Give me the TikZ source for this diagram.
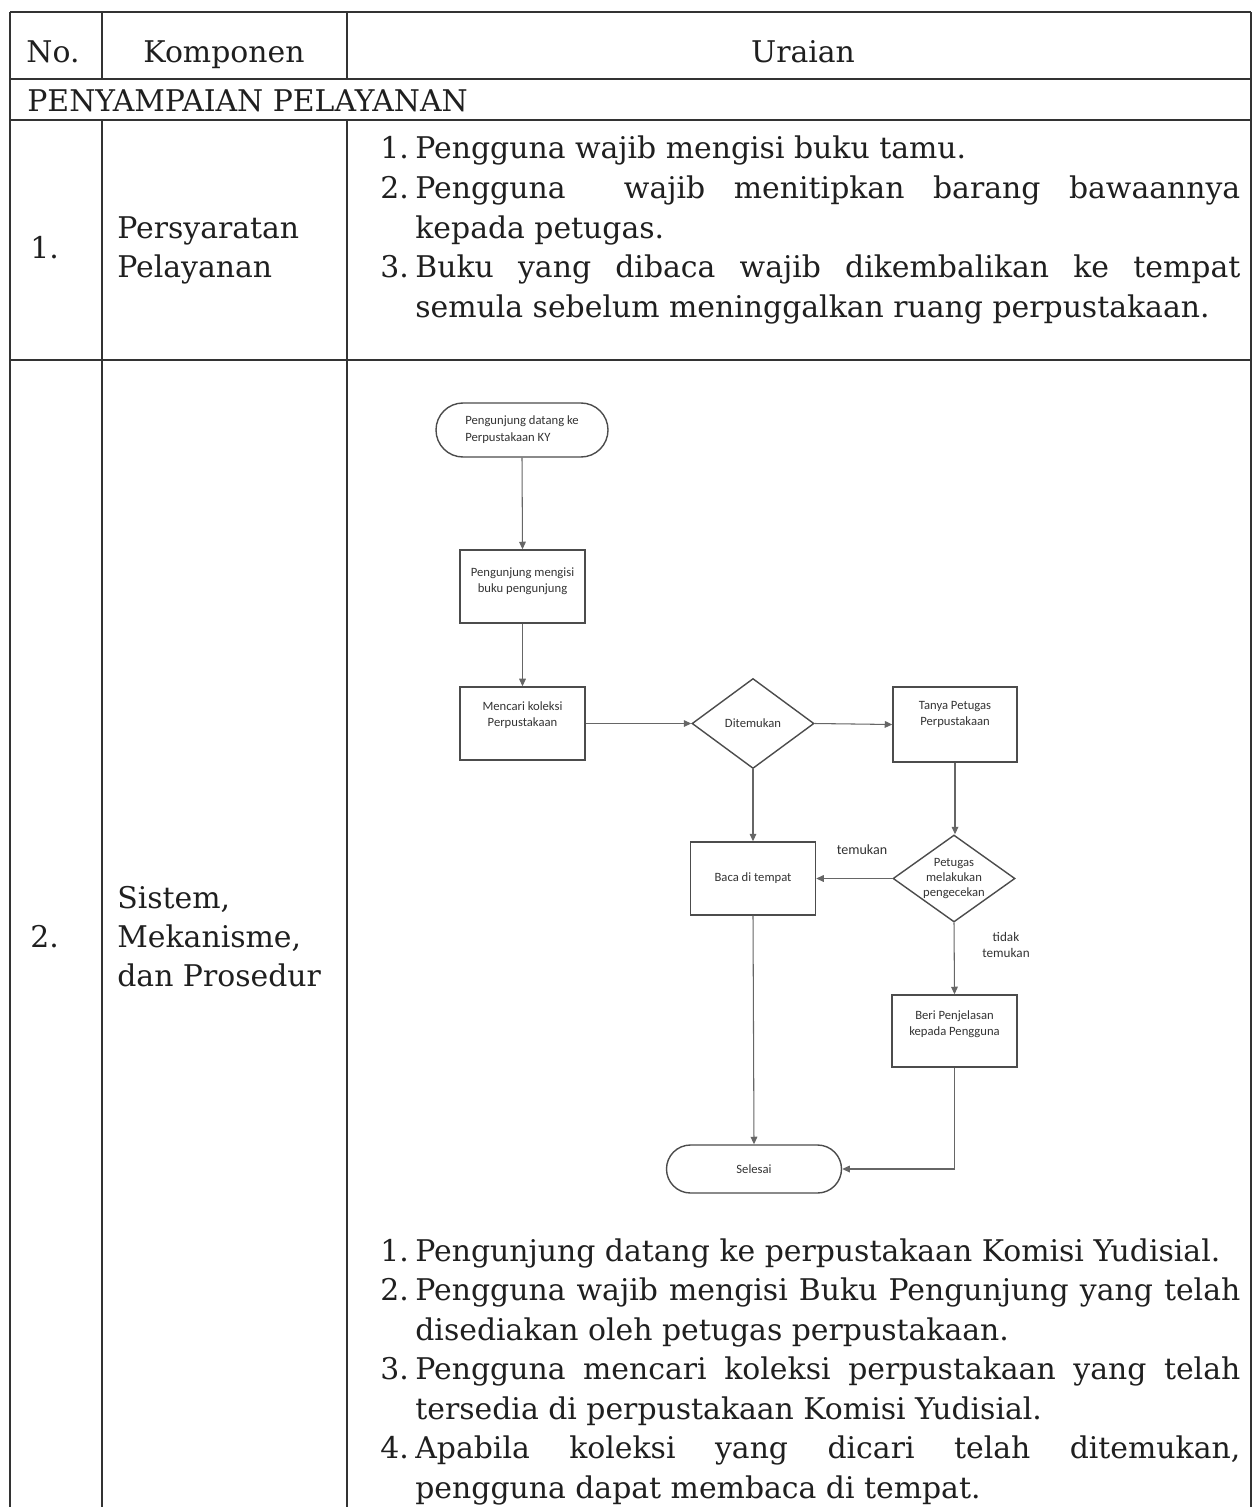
\documentclass[tikz,border=0pt]{standalone}
\usepackage{fontspec}
\setmainfont{DejaVu Serif}
\newfontfamily\flowfont{Carlito}
\usetikzlibrary{shapes.geometric,shapes.misc,arrows.meta}
\newdimen\pxu \pxu=0.02cm
\newcommand\justline[1]{\makebox[825\pxu][s]{#1}}
\begin{document}
\begin{tikzpicture}[x=0.02cm,y=-0.02cm,
  tabline/.style={line width=1.1pt, draw=black!80},
  maintext/.style={font=\fontsize{17}{22.4}\selectfont, inner sep=0pt, text=black!88},
  fl/.style={draw=black!70, line width=0.8pt},
  flbox/.style={fl, rectangle, minimum width=125\pxu, minimum height=73\pxu, inner sep=0pt},
  term/.style={fl, rounded rectangle, minimum width=172\pxu, minimum height=54\pxu, inner sep=0pt},
  dia/.style={fl, diamond, minimum width=122\pxu, minimum height=90\pxu, inner sep=0pt},
  fltext/.style={font=\flowfont\fontsize{7.2}{9}\selectfont, text=black!80, align=center, inner sep=0pt},
  arr/.style={draw=black!60, line width=0.6pt, -{Triangle[length=4.3pt,width=3.8pt]}}
]
\useasboundingbox (0,0) rectangle (1254,1507);

% ---------- table grid ----------
\draw[tabline] (10,12) -- (1251,12);
\draw[tabline] (10,79) -- (1251,79);
\draw[tabline] (10,120) -- (1251,120);
\draw[tabline] (10,360) -- (1251,360);
\draw[tabline] (10,12) -- (10,1507);
\draw[tabline] (1251,12) -- (1251,1507);
\draw[tabline] (102,12) -- (102,79);
\draw[tabline] (347,12) -- (347,79);
\draw[tabline] (102,120) -- (102,1507);
\draw[tabline] (347,120) -- (347,1507);

% ---------- header ----------
\node[maintext, anchor=base] (hno) at (53,63) {No.};
\node[maintext, anchor=base] (hkomp) at (224,63) {Komponen};
\node[maintext, anchor=base] (hur) at (803,63) {Uraian};
\node[maintext, anchor=base west] (sect) at (27,112) {PENYAMPAIAN PELAYANAN};

% ---------- row 1 ----------
\node[maintext, anchor=base west] (no1) at (30,258) {1.};
\node[maintext, anchor=base west] (k1a) at (117,238) {Persyaratan};
\node[maintext, anchor=base west] (k1b) at (117,277.5) {Pelayanan};

\node[maintext, anchor=base west] (r1n1) at (380,159) {1.};
\node[maintext, anchor=base west] (r1l1) at (415,159) {Pengguna wajib mengisi buku tamu.};
\node[maintext, anchor=base west] (r1n2) at (380,198.5) {2.};
\node[maintext, anchor=base west] (r1l2) at (415,198.5) {\justline{Pengguna \quad wajib menitipkan barang bawaannya}};
\node[maintext, anchor=base west] (r1l3) at (415,238) {kepada petugas.};
\node[maintext, anchor=base west] (r1n3) at (380,277.5) {3.};
\node[maintext, anchor=base west] (r1l4) at (415,277.5) {\justline{Buku yang dibaca wajib dikembalikan ke tempat}};
\node[maintext, anchor=base west] (r1l5) at (415,317) {semula sebelum meninggalkan ruang perpustakaan.};

% ---------- row 2 ----------
\node[maintext, anchor=base west] (no2) at (30,947) {2.};
\node[maintext, anchor=base west] (k2a) at (117,908) {Sistem,};
\node[maintext, anchor=base west] (k2b) at (117,947) {Mekanisme,};
\node[maintext, anchor=base west] (k2c) at (117,986) {dan Prosedur};

% ---------- flowchart ----------
\node[term] (start) at (522,430) {};
\node[fltext, align=left, font=\flowfont\fontsize{7.2}{9.6}\selectfont] (startt) at (start.center) {Pengunjung datang ke\\Perpustakaan KY};
\node[flbox, label={[fltext,yshift=5\pxu]center:{Pengunjung mengisi\\buku pengunjung}}] (b2) at (522.5,586.5) {};
\node[flbox, label={[fltext,yshift=8\pxu]center:{Mencari koleksi\\Perpustakaan}}] (b3) at (522.5,723.5) {};
\node[dia, label={[fltext]center:Ditemukan}] (d1) at (753,723.5) {};
\node[flbox, minimum width=124\pxu, minimum height=75\pxu, label={[fltext,yshift=10\pxu]center:{Tanya Petugas\\Perpustakaan}}] (tanya) at (955,724.5) {};
\node[flbox, label={[fltext]center:Baca di tempat}] (baca) at (753,878.5) {};
\node[dia, minimum height=87\pxu, label={[fltext, font=\flowfont\fontsize{7.2}{8.5}\selectfont]center:{Petugas\\melakukan\\pengecekan}}] (d2) at (954,878.5) {};
\node[flbox, minimum height=72\pxu, label={[fltext,yshift=7\pxu]center:{Beri Penjelasan\\kepada Pengguna}}] (beri) at (954.5,1031) {};
\node[term, minimum width=175\pxu, minimum height=48\pxu, label={[fltext]center:Selesai}] (end) at (754,1169) {};

\node[fltext, font=\flowfont\fontsize{8}{9}\selectfont] (lbtem) at (862,850) {temukan};
\node[fltext, font=\flowfont\fontsize{7.5}{9}\selectfont] (lbtid) at (1006,945) {tidak\\temukan};

\draw[arr] (start.south) -- (b2.north);
\draw[arr] (b2.south) -- (b3.north);
\draw[arr] (b3.east) -- (d1.west);
\draw[arr] (d1.east) -- (tanya.west);
\draw[arr] (d1.south) -- (baca.north);
\draw[arr] (tanya.south) -- (tanya.south |- d2.north);
\draw[arr] (d2.west) -- (baca.east);
\draw[arr] (d2.south) -- (beri.north);
\draw[arr] (baca.south) -- (end.north);
\draw[arr] (beri.south) |- (end.east);

% ---------- row 2 text ----------
\node[maintext, anchor=base west] (r2n1) at (380,1261) {1.};
\node[maintext, anchor=base west] (r2l1) at (415,1261) {Pengunjung datang ke perpustakaan Komisi Yudisial.};
\node[maintext, anchor=base west] (r2n2) at (380,1300.5) {2.};
\node[maintext, anchor=base west] (r2l2) at (415,1300.5) {\justline{Pengguna wajib mengisi Buku Pengunjung yang telah}};
\node[maintext, anchor=base west] (r2l3) at (415,1340) {disediakan oleh petugas perpustakaan.};
\node[maintext, anchor=base west] (r2n3) at (380,1379.5) {3.};
\node[maintext, anchor=base west] (r2l4) at (415,1379.5) {\justline{Pengguna mencari koleksi perpustakaan yang telah}};
\node[maintext, anchor=base west] (r2l5) at (415,1419) {tersedia di perpustakaan Komisi Yudisial.};
\node[maintext, anchor=base west] (r2n4) at (380,1458.5) {4.};
\node[maintext, anchor=base west] (r2l6) at (415,1458.5) {\justline{Apabila koleksi yang dicari telah ditemukan,}};
\node[maintext, anchor=base west] (r2l7) at (415,1498) {pengguna dapat membaca di tempat.};
\end{tikzpicture}
\end{document}
